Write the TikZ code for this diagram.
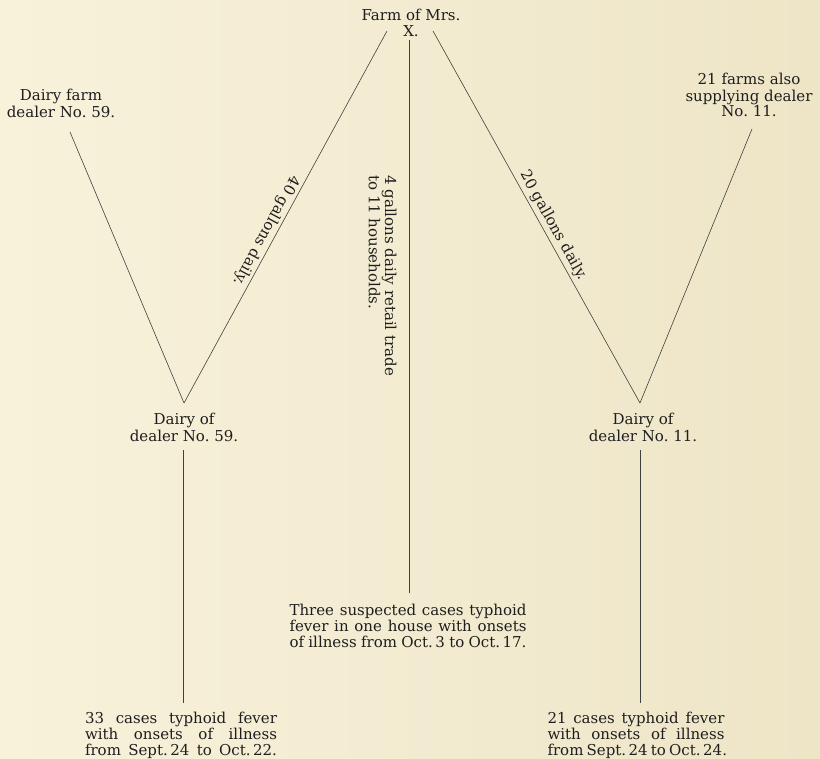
\documentclass[tikz,border=0pt]{standalone}
\usepackage{fontspec}
\setmainfont{DejaVu Serif}
\usetikzlibrary{calc}
\definecolor{paperL}{HTML}{F8F2DB}
\definecolor{paperR}{HTML}{EEE5C7}
\definecolor{ink}{HTML}{1E1E1E}
\definecolor{wirec}{HTML}{404040}
\newcommand\labfont{\fontsize{15}{15.5}\selectfont}
\newcommand\jline[2]{\makebox[#1][s]{#2}}
\frenchspacing
\setlength\tabcolsep{0pt}
\begin{document}
\begin{tikzpicture}[x=1pt,y=1pt,
  lbl/.style={inner sep=0pt, anchor=base, text=ink, font=\labfont},
  wire/.style={draw=wirec, line width=0.6pt},
  along/.style={inner sep=3pt, text=ink, font=\labfont}]
\shade[left color=paperL, right color=paperR] (0,0) rectangle (820,-759);
\useasboundingbox (0,0) rectangle (820,-759);

% text nodes
\node[lbl] (farm) at (411,-21) {\begin{tabular}[t]{c}Farm of Mrs.\\ X.\end{tabular}};
\node[lbl] (dfarm) at (61,-101) {\begin{tabular}[t]{c}Dairy farm\\ dealer No. 59.\end{tabular}};
\node[lbl] (farms21) at (749,-85) {\begin{tabular}[t]{c}21 farms also\\ supplying dealer\\ No. 11.\end{tabular}};
\node[lbl] (d59) at (184,-425) {\begin{tabular}[t]{c}Dairy of\\ dealer No. 59.\end{tabular}};
\node[lbl] (d11) at (643,-425) {\begin{tabular}[t]{c}Dairy of\\ dealer No. 11.\end{tabular}};
\node[lbl] (three) at (408,-615) {\begin{tabular}[t]{c}\jline{237pt}{Three suspected cases typhoid}\\ \jline{237pt}{fever in one house with onsets}\\ \jline{237pt}{of illness from Oct.\,3 to Oct.\,17.}\end{tabular}};
\node[lbl] (c33) at (181,-723) {\begin{tabular}[t]{c}\jline{192pt}{33 cases typhoid fever}\\ \jline{192pt}{with onsets of illness}\\ \jline{192pt}{from Sept.\,24 to Oct.\,22.}\end{tabular}};
\node[lbl] (c21) at (636,-723) {\begin{tabular}[t]{c}\jline{177pt}{21 cases typhoid fever}\\ \jline{177pt}{with onsets of illness}\\ \jline{177pt}{from Sept.\,24 to Oct.\,24.}\end{tabular}};
\node[lbl, rotate=-90, anchor=base west] (retail) at (385,-175) {\begin{tabular}[t]{l}4 gallons daily retail trade\\ to 11 households.\end{tabular}};

% connector end points
\coordinate (farmL) at (387,-31);
\coordinate (farmC) at (409,-40);
\coordinate (farmR) at (433,-31);
\coordinate (dfarmB) at (70,-132);
\coordinate (farms21B) at (752,-129);
\coordinate (d59T) at (184,-403);
\coordinate (d11T) at (640,-403);
\coordinate (d59B) at (183,-450);
\coordinate (d11B) at (640,-450);
\coordinate (c33T) at (183,-703);
\coordinate (c21T) at (640,-703);
\coordinate (threeT) at (409,-593);

% connectors
\draw[wire] (farmL) -- (d59T) node[along, pos=.55, rotate=241.5, anchor=north] {40 gallons daily.};
\draw[wire] (farmR) -- (d11T) node[along, pos=.537, rotate=-61, anchor=south] {20 gallons daily.};
\draw[wire] (farmC) -- (threeT);
\draw[wire] (dfarmB) -- (d59T);
\draw[wire] (farms21B) -- (d11T);
\draw[wire] (d59B) -- (c33T);
\draw[wire] (d11B) -- (c21T);
\end{tikzpicture}
\end{document}
